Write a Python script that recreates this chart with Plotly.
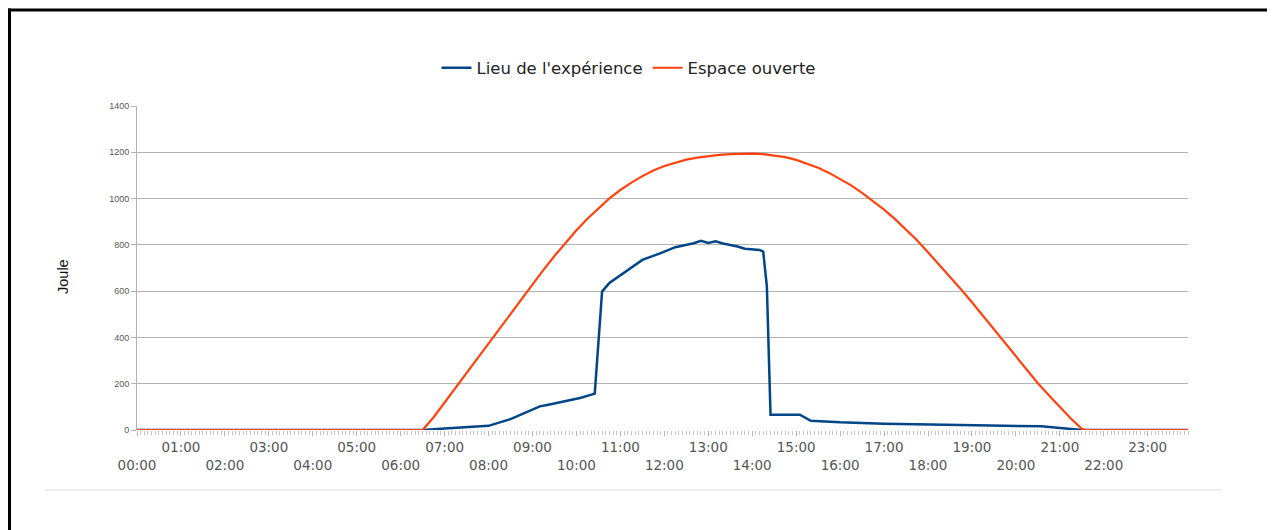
import plotly.graph_objects as go

# ---------------- data ----------------
lieu_times = ["00:00", "06:30", "07:00", "07:30", "08:00", "08:30", "08:50", "09:10", "09:20",
              "09:45", "10:05", "10:25", "10:35", "10:45", "11:10", "11:30", "11:55", "12:15",
              "12:40", "12:50", "13:00", "13:10", "13:20", "13:40", "13:50", "14:10", "14:15",
              "14:20", "14:25", "15:05", "15:20", "16:00", "17:00", "18:15", "19:25", "20:35",
              "21:00", "21:30", "23:55"]
lieu_values = [0, 0, 6, 12, 18, 47, 73, 102, 108,
               125, 138, 157, 598, 635, 690, 735, 764, 790,
               807, 817, 808, 815, 806, 793, 783, 778, 771,
               620, 66, 66, 40, 33, 27, 22, 19, 16,
               9, 0, 0]

espace_times = ["00:00", "06:30", "06:45", "07:00", "07:15", "07:30", "07:45", "08:00", "08:15",
                "08:30", "08:45", "09:00", "09:15", "09:30", "09:45", "10:00", "10:15", "10:30",
                "10:45", "11:00", "11:15", "11:30", "11:45", "12:00", "12:15", "12:30", "12:45",
                "13:00", "13:15", "13:30", "13:45", "14:00", "14:15", "14:30", "14:45", "15:00",
                "15:15", "15:30", "15:45", "16:00", "16:15", "16:30", "16:45", "17:00", "17:15",
                "17:30", "17:45", "18:00", "18:15", "18:30", "18:45", "19:00", "19:15", "19:30",
                "19:45", "20:00", "20:15", "20:30", "20:45", "21:00", "21:15", "21:30", "21:35",
                "23:55"]
espace_values = [0, 0, 55, 119, 183, 247, 311, 375, 439,
                 503, 567, 630, 692, 752, 809, 863, 913, 959,
                 1001, 1037, 1069, 1097, 1121, 1141, 1156, 1168, 1177,
                 1184, 1189, 1192, 1194, 1194, 1192, 1187, 1179, 1167,
                 1151, 1133, 1111, 1085, 1057, 1025, 990, 952, 911,
                 867, 820, 768, 716, 662, 608, 552, 494, 435,
                 375, 316, 258, 202, 150, 100, 50, 5, 0,
                 0]

hour_labels = ["%02d:00" % h for h in range(24)]
y_ticks = [0, 200, 400, 600, 800, 1000, 1200, 1400]


def to_hours(t):
    hh, mm = t.split(":")
    return int(hh) + int(mm) / 60.0


lieu_x = [to_hours(t) for t in lieu_times]
espace_x = [to_hours(t) for t in espace_times]

# ---------------- figure ----------------
BLUE = "#004586"
ORANGE = "#ff420e"
GRID = "#b3b3b3"
FONT = "DejaVu Sans, Liberation Sans, Arial, sans-serif"
FONT2 = "Liberation Sans, Arial, sans-serif"

fig = go.Figure()
fig.add_trace(go.Scatter(x=lieu_x, y=lieu_values, mode="lines", name="Lieu de l'expérience",
                         line=dict(color=BLUE, width=2.5)))
fig.add_trace(go.Scatter(x=espace_x, y=espace_values, mode="lines", name="Espace ouverte",
                         line=dict(color=ORANGE, width=2.2)))

# staggered hour labels: odd hours on first row, even hours on second row
tick_text = [(lab if h % 2 == 1 else "<br>" + lab) for h, lab in enumerate(hour_labels)]

# the page puts the figure at an 8px offset; work in figure coordinates
OFF = 8
W, H = 1275 - OFF, 530 - OFF
L = 137 - OFF
R = W - (1188 - OFF)
T = 106 - OFF
B = H - (430 - OFF)
pw, ph = W - L - R, H - T - B


def px(x):  # x in reference page pixels -> paper
    return (x - OFF - L) / pw


def py(y):  # y in reference page pixels -> paper
    return (H - B - (y - OFF)) / ph


fig.update_layout(
    width=W, height=H,
    margin=dict(l=L, r=R, t=T, b=B, pad=0),
    paper_bgcolor="white", plot_bgcolor="white",
    font=dict(family=FONT, color="#333333"),
    showlegend=True,
    legend=dict(orientation="h", x=px(629), xanchor="center", y=py(68), yanchor="middle",
                font=dict(size=16.5, color="#222222", family=FONT), itemwidth=30,
                bgcolor="rgba(0,0,0,0)"),
    xaxis=dict(
        range=[0, 23 + 55 / 60], tickmode="array",
        tickvals=list(range(24)), ticktext=tick_text,
        showgrid=False, zeroline=False, showline=False,
        ticks="outside", ticklen=5, tickcolor=GRID, tickwidth=1,
        tickfont=dict(size=13.5, color="#555555", family=FONT),
        minor=dict(ticks="outside", ticklen=4, tickcolor="#c4c4c4", dtick=1 / 12, tick0=0,
                   showgrid=False),
    ),
    yaxis=dict(
        range=[0, 1400], tickmode="array", tickvals=y_ticks,
        showgrid=True, gridcolor=GRID, gridwidth=1, zeroline=False,
        showline=True, linecolor=GRID, linewidth=1,
        ticks="outside", ticklen=5, tickcolor=GRID,
        tickfont=dict(size=9, color="#555555", family=FONT2),
    ),
    annotations=[
        dict(text="Joule", xref="paper", yref="paper", x=px(63), y=py(277),
             textangle=-90, showarrow=False, xanchor="center", yanchor="middle",
             font=dict(size=14.5, color="#111111", family=FONT2)),
    ],
    shapes=[
        # black frame (top and left)
        dict(type="line", xref="paper", yref="paper", x0=px(8), x1=px(1290), y0=py(10), y1=py(10),
             line=dict(color="black", width=3)),
        dict(type="line", xref="paper", yref="paper", x0=px(9.5), x1=px(9.5), y0=py(8.5), y1=py(540),
             line=dict(color="black", width=3)),
        # light separator under the chart
        dict(type="line", xref="paper", yref="paper", x0=px(45), x1=px(1222), y0=py(490), y1=py(490),
             line=dict(color="#dddddd", width=1)),
    ],
)

fig.write_html("out.html")
